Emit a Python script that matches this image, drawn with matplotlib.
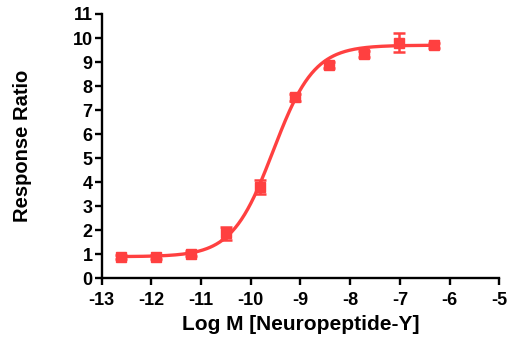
import numpy as np
import matplotlib
matplotlib.use('Agg')
from matplotlib import pyplot as plt

plt.rcParams['font.family'] = ['Liberation Sans', 'DejaVu Sans']
plt.rcParams['font.weight'] = 'bold'
plt.rcParams['axes.unicode_minus'] = False

# measured points
log_conc = [-12.61, -11.91, -11.21, -10.50, -9.82, -9.11, -8.43, -7.72, -7.01, -6.31]
response = [0.90, 0.89, 1.02, 1.87, 3.81, 7.53, 8.88, 9.33, 9.80, 9.70]
sem = [0.08, 0.08, 0.10, 0.28, 0.30, 0.15, 0.12, 0.12, 0.40, 0.10]

# 4-parameter logistic fit
bottom, top, log_ec50, hill = 0.90, 9.70, -9.55, 1.05

red = '#FF4040'

fig = plt.figure(figsize=(5.11, 3.43), dpi=100)
ax = fig.add_axes([0.199, 0.1886, 0.778, 0.7706])

xfit = np.linspace(log_conc[0], log_conc[-1], 300)
yfit = bottom + (top - bottom) / (1 + 10 ** ((log_ec50 - xfit) * hill))
ax.plot(xfit, yfit, color=red, linewidth=2.4, zorder=2)

ax.errorbar(log_conc, response, yerr=sem, fmt='s', color=red, markersize=6.5,
            elinewidth=1.8, capsize=4, capthick=1.8, zorder=3)

ax.set_xlim(-13, -5)
ax.set_ylim(0, 11)
ax.set_xticks(range(-13, -4))
ax.set_yticks(range(0, 12))

for side in ['top', 'right']:
    ax.spines[side].set_visible(False)
for side in ['left', 'bottom']:
    ax.spines[side].set_linewidth(1.7)

ax.tick_params(width=1.7, length=5, labelsize=13, direction='out', pad=1.5)
ax.tick_params(axis='x', pad=5)
for lab in ax.get_xticklabels() + ax.get_yticklabels():
    lab.set_fontweight('bold')

ax.set_xlabel('Log M [Neuropeptide-Y]', fontsize=15, fontweight='bold', labelpad=4)
ax.set_ylabel('Response Ratio', fontsize=14.5, fontweight='bold', labelpad=29)

fig.savefig('out.png', dpi=100)
